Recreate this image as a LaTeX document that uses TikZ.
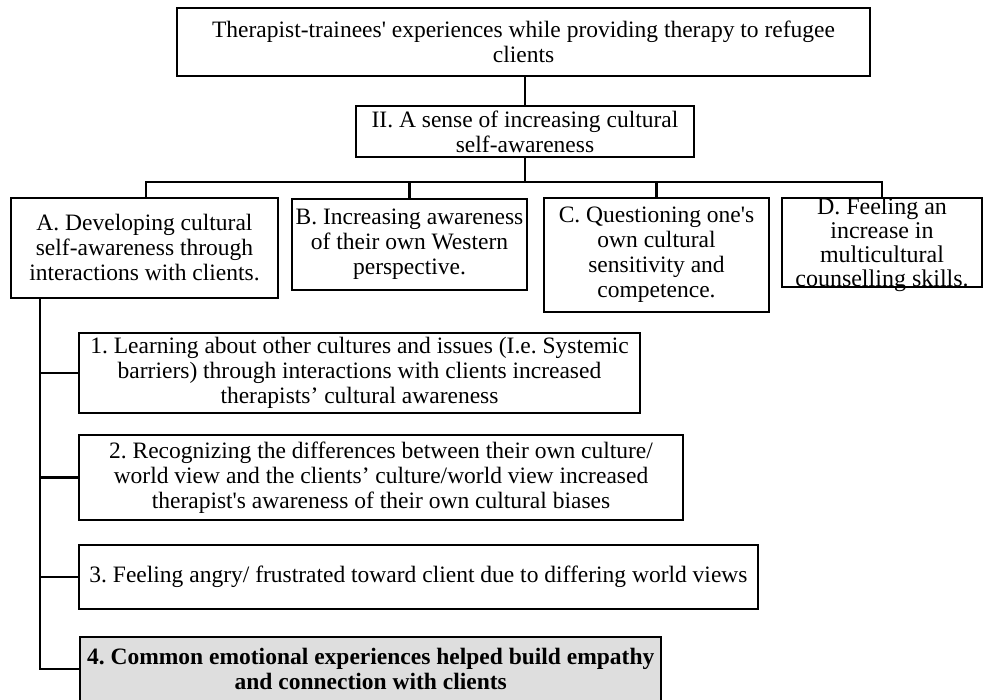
\documentclass[tikz,border=0pt]{standalone}
\usepackage{fontspec}
\setmainfont{Liberation Serif}[Ligatures=TeXOff]
\frenchspacing
\begin{document}
\begin{tikzpicture}[x=1pt,y=-1pt,
  box/.style={draw,line width=2.2pt,inner sep=0pt,align=center,font=\frenchspacing\fontsize{23.5}{25}\selectfont},
  conn/.style={line width=2.2pt}]
\useasboundingbox (0,0) rectangle (985,700);
\node[box,minimum width=693,minimum height=68] (top) at (523.5,42) {Therapist-trainees' experiences while providing therapy to refugee\\clients};
\node[box,minimum width=338,minimum height=51] (two) at (525,131.5) {II. A sense of increasing cultural\\self-awareness};
\node[box,minimum width=267,minimum height=100] (A) at (144.5,248) {A. Developing cultural\\self-awareness through\\interactions with clients.};
\node[box,minimum width=235,minimum height=91] (B) at (409.5,244.5) {B. Increasing awareness\\of their own Western\\perspective.};
\node[box,minimum width=225,minimum height=114] (C) at (656.5,255) {C. Questioning one's\\own cultural\\sensitivity and\\competence.};
\node[box,minimum width=200,minimum height=89,font=\frenchspacing\fontsize{24}{24}\selectfont] (D) at (882,242.5) {\raisebox{-9.5pt}[0pt][0pt]{\begin{tabular}{@{}c@{}}D. Feeling an\\increase in\\multicultural\\counselling skills.\end{tabular}}};
\node[box,minimum width=561,minimum height=80] (s1) at (359.5,373) {1. Learning about other cultures and issues (I.e. Systemic\\barriers) through interactions with clients increased\\therapists’ cultural awareness};
\node[box,minimum width=604,minimum height=85] (s2) at (381,477.5) {2. Recognizing the differences between their own culture/\\world view and the clients’ culture/world view increased\\therapist's awareness of their own cultural biases};
\node[box,minimum width=679,minimum height=64] (s3) at (418.5,577) {3. Feeling angry/ frustrated toward client due to differing world views};
\node[box,fill=black!13,inner xsep=7pt,minimum height=64,anchor=west,font=\frenchspacing\fontsize{23.5}{25}\selectfont\bfseries] (s4) at (79,669) {4. Common emotional experiences helped build empathy\\and connection with clients};
\coordinate (bus) at (0,182);
\coordinate (spine) at (40,0);
\draw[conn] (two.north) -- (two.north |- top.south);
\draw[conn] (two.south) -- (two.south |- bus);
\draw[conn] (A.north -| 146,0) |- (D.north |- bus) -- (D.north);
\draw[conn] (B.north) -- (B.north |- bus);
\draw[conn] (C.north) -- (C.north |- bus);
\draw[conn] (A.south -| spine) |- (s4.west);
\draw[conn] (spine |- s1.west) -- (s1.west);
\draw[conn] (spine |- s2.west) -- (s2.west);
\draw[conn] (spine |- s3.west) -- (s3.west);
\end{tikzpicture}
\end{document}
